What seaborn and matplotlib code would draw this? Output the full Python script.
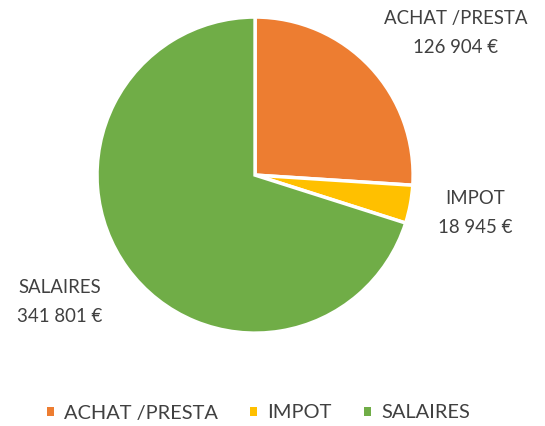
import matplotlib
matplotlib.use("Agg")
import matplotlib.pyplot as plt
import seaborn as sns
from matplotlib.patches import Patch

categories = ["ACHAT /PRESTA", "IMPOT", "SALAIRES"]
values = [126904, 18945, 341801]
colors = ["#ED7D31", "#FFC000", "#70AD47"]

sns.set_theme(style="white")
plt.rcParams["font.family"] = ["Lato", "DejaVu Sans"]
palette = sns.color_palette(colors)

fig = plt.figure(figsize=(5.45, 4.26), dpi=100)
ax = fig.add_axes([0.178, 0.218, 0.580, 0.742])
wedges, _ = ax.pie(values, colors=palette, startangle=90, counterclock=False,
                   wedgeprops=dict(edgecolor="white", linewidth=2.5), radius=1)
ax.set_xlim(-1, 1)
ax.set_ylim(-1, 1)
ax.set_aspect("equal")
ax.axis("off")


def euro(v):
    return f"{v:,}".replace(",", " ") + " €"


# label anchors in figure pixels (x, y from top)
label_pos = [(456, 33), (475, 213), (60, 302)]
txt_color = "#404040"
for name, v, (px, py) in zip(categories, values, label_pos):
    fig.text(px / 545, 1 - py / 426, f"{name}\n{euro(v)}", ha="center", va="center",
             fontsize=13.4, color=txt_color, linespacing=1.8)

handles = [Patch(facecolor=c, edgecolor="none") for c in palette]
fig.legend(handles, categories, loc="center", bbox_to_anchor=(258.5 / 545, 1 - 413 / 426),
           ncol=3, frameon=False, fontsize=14.4, labelcolor=txt_color,
           handlelength=0.36, handleheight=0.36, handletextpad=0.5, columnspacing=1.6)

fig.savefig("out.png", dpi=100)
